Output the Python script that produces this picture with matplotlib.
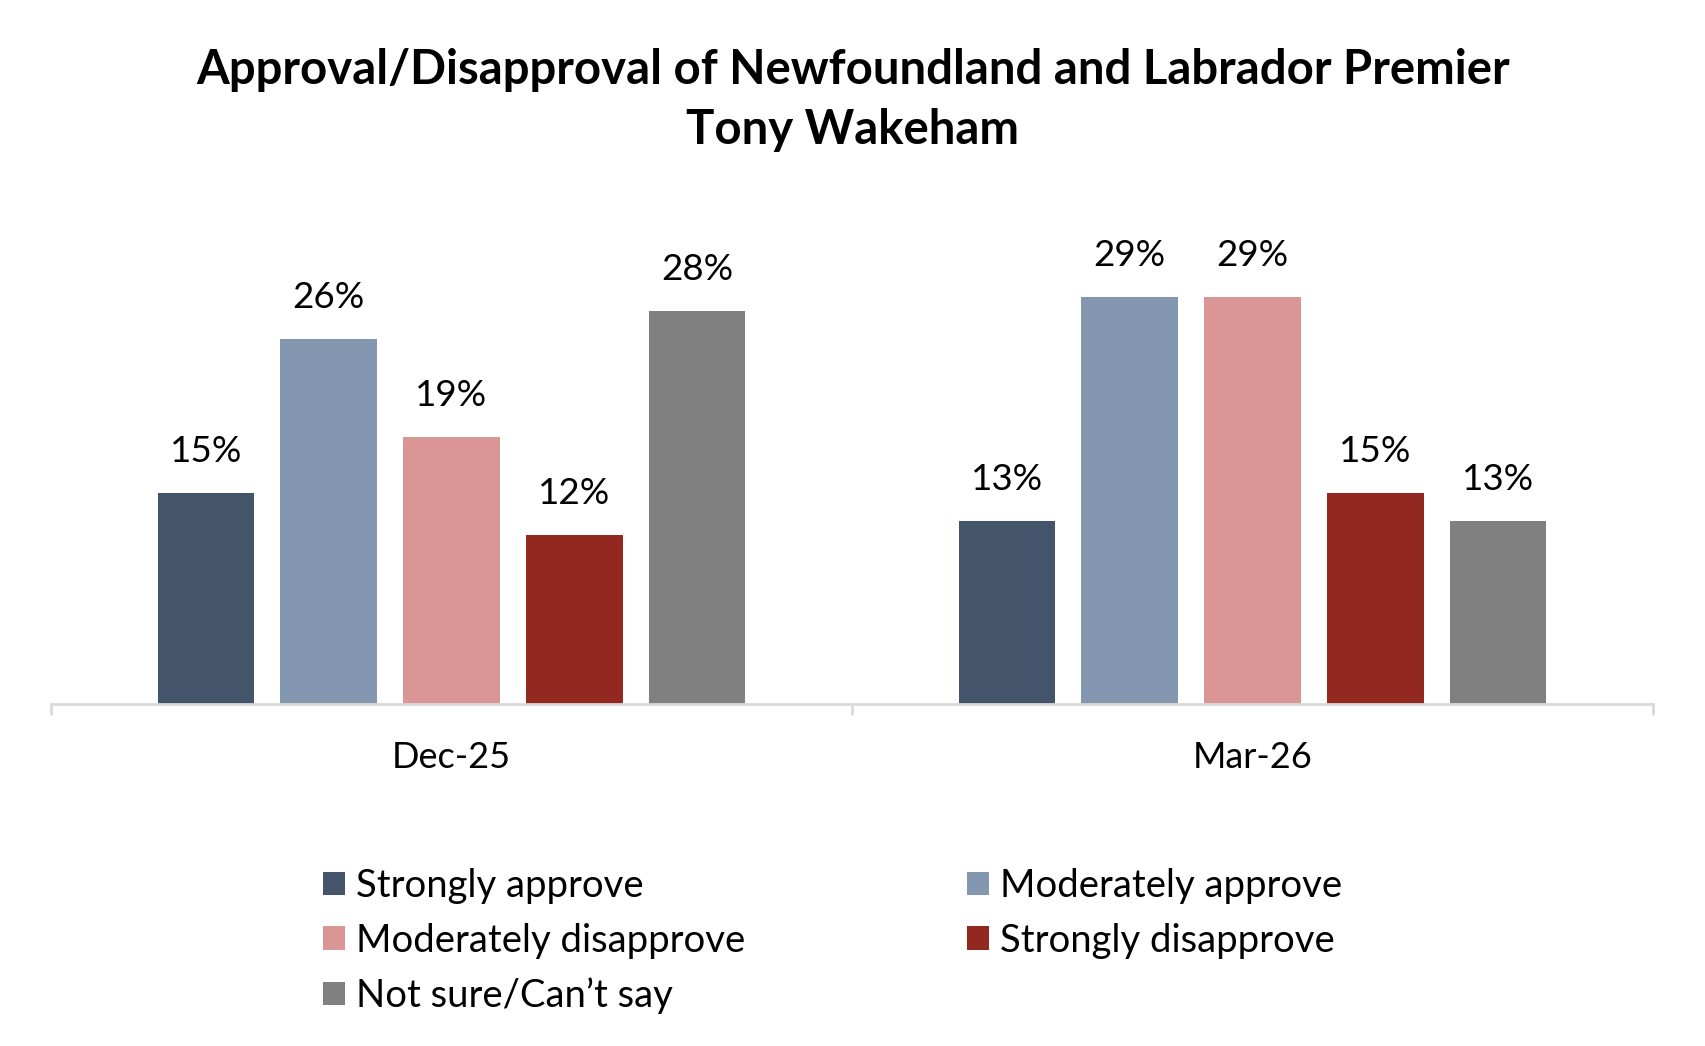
import matplotlib
matplotlib.use("Agg")
import matplotlib.pyplot as plt
import numpy as np

categories = ["Dec-25", "Mar-26"]
series_names = ["Strongly approve", "Moderately approve", "Moderately disapprove",
                "Strongly disapprove", "Not sure/Can\u2019t say"]
strongly_approve = [15, 13]
moderately_approve = [26, 29]
moderately_disapprove = [19, 29]
strongly_disapprove = [12, 15]
not_sure = [28, 13]
series_values = [strongly_approve, moderately_approve, moderately_disapprove,
                 strongly_disapprove, not_sure]
colors = ["#44546A", "#8497B0", "#DA9694", "#922820", "#808080"]

plt.rcParams['font.family'] = ['Lato', 'DejaVu Sans']

W, H = 1706, 1046
fig = plt.figure(figsize=(W / 100, H / 100), dpi=100)
left, right, bottom, top = 51, 1653, 703.5, 217
ax = fig.add_axes([left / W, 1 - bottom / H, (right - left) / W, (bottom - top) / H])

x = np.arange(len(categories))
step = 0.1533
width = 0.1208
handles = []
for i, (name, vals, c) in enumerate(zip(series_names, series_values, colors)):
    b = ax.bar(x + (i - 2) * step, vals, width, color=c, label=name)
    handles.append(b)
    for xi, v in zip(x + (i - 2) * step, vals):
        ax.annotate(f"{v}%", (xi, v), xytext=(0, 18), textcoords="offset points",
                    ha="center", va="bottom", fontsize=26.5, color="black")

ax.set_xlim(-0.5, 1.5)
ax.set_ylim(0, 34.7)
for s in ["top", "right", "left"]:
    ax.spines[s].set_visible(False)
ax.spines["bottom"].set_color("#D9D9D9")
ax.spines["bottom"].set_linewidth(2)
ax.set_yticks([])
ax.set_xticks([-0.5, 0.5, 1.5])
ax.set_xticklabels([])
ax.tick_params(axis="x", which="major", direction="out", length=8, width=2, color="#D9D9D9")
ax.set_xticks(x, categories, minor=True)
ax.tick_params(axis="x", which="minor", length=0, pad=27, labelsize=26)

fig.text(0.5, 1 - 70.5 / H, "Approval/Disapproval of Newfoundland and Labrador Premier",
         ha="center", va="center", fontsize=34, fontweight="bold")
fig.text(0.5, 1 - 130.5 / H, "Tony Wakeham",
         ha="center", va="center", fontsize=34, fontweight="bold")

col1 = [handles[0], handles[2], handles[4]]
col2 = [handles[1], handles[3]]
common = dict(frameon=False, fontsize=27.5, handlelength=0.57, handleheight=0.57,
              handletextpad=0.29, labelspacing=0.49, borderpad=0, borderaxespad=0)
leg1 = fig.legend(col1, [h.get_label() for h in col1], loc="upper left",
                  bbox_to_anchor=(323 / W, 1 - 868 / H), **common)
leg2 = fig.legend(col2, [h.get_label() for h in col2], loc="upper left",
                  bbox_to_anchor=(967 / W, 1 - 868 / H), **common)

fig.savefig("out.png", dpi=100, facecolor="white")
